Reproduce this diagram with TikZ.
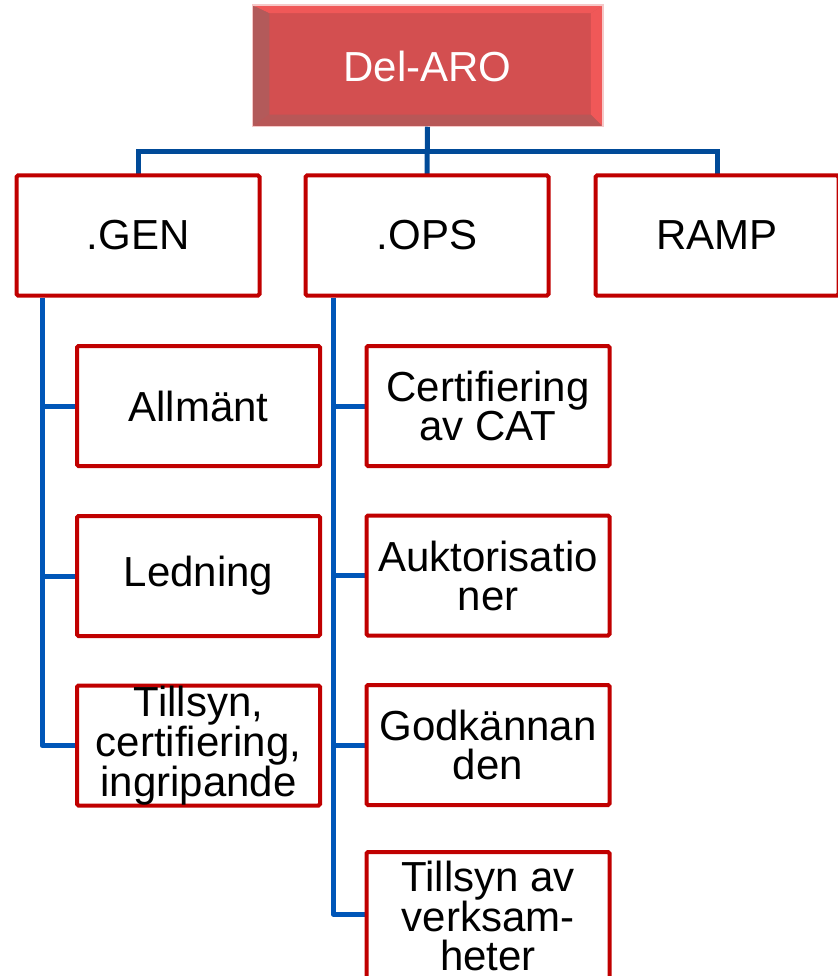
\documentclass[tikz,border=0pt]{standalone}
\usepackage{fontspec}
\setmainfont{Liberation Sans}
\usetikzlibrary{calc}
\definecolor{boxred}{HTML}{C00000}
\definecolor{topred}{HTML}{D34F50}
\definecolor{topedge}{HTML}{F6C8C8}
\definecolor{bevlight}{HTML}{F05858}
\definecolor{bevdark}{HTML}{B35A5A}
\definecolor{bevbot}{HTML}{B85757}
\definecolor{bluedark}{HTML}{004A98}
\definecolor{bluelight}{HTML}{0056B8}
\begin{document}
\begin{tikzpicture}[x=1pt,y=-1pt,
  box/.style={draw=boxred, line width=4pt, fill=white, rounded corners=1.5pt,
    minimum width=243pt, minimum height=120pt, inner sep=0pt, align=center,
    font=\fontsize{42}{39}\selectfont},
  topbox/.style={draw=topedge, line width=1.5pt, fill=topred,
    minimum width=349pt, minimum height=120pt, inner sep=0pt},
  toplabel/.style={text=white, inner sep=0pt, font=\fontsize{42}{39}\selectfont},
  topconn/.style={line width=5pt, bluedark},
  conn/.style={line width=5pt, bluelight, line join=round}]
\useasboundingbox (0,0) rectangle (837,976);

% coordinates
\coordinate (bus) at (0,152);
\coordinate (gsp) at (42,0);
\coordinate (osp) at (333,0);
\coordinate (o4branch) at (0,914);

% top box
\node[topbox] (top) at (427.5,66) {};
\fill[bevlight] (top.north west) -- (top.north east) -- ($(top.north east)+(-12,8)$) -- ($(top.north west)+(17,8)$) -- cycle;
\fill[bevdark] (top.north west) -- ($(top.north west)+(17,8)$) -- ($(top.south west)+(17,-12)$) -- (top.south west) -- cycle;
\fill[bevlight] (top.north east) -- (top.south east) -- ($(top.south east)+(-12,-12)$) -- ($(top.north east)+(-12,8)$) -- cycle;
\fill[bevbot] (top.south west) -- (top.south east) -- ($(top.south east)+(-12,-12)$) -- ($(top.south west)+(17,-12)$) -- cycle;
\draw[topedge, line width=1.5pt] (top.north west) rectangle (top.south east);
\node[toplabel] (toptext) at (top.center) {Del-ARO};

% level 2 boxes (positions)
\path (138,235.5) coordinate (genc) (427,235.5) coordinate (opsc) (717,235.5) coordinate (rampc);

% connectors top
\draw[topconn] (top.south) -- (opsc |- 0,176);
\draw[topconn] (genc |- 0,176) -- (genc |- bus) -- (rampc |- bus) -- (rampc |- 0,176);

\node[box] (gen) at (genc) {.GEN};
\node[box] (ops) at (opsc) {.OPS};
\node[box] (ramp) at (rampc) {RAMP};

% level 3 positions
\path (198.5,406) coordinate (g1c) (198.5,576) coordinate (g2c) (198.5,745.5) coordinate (g3c);
\path (488,406) coordinate (o1c) (488,575.5) coordinate (o2c) (488,745) coordinate (o3c) (488,916) coordinate (o4c);

% connectors level 3
\draw[conn] (gen.south -| gsp) |- (g3c);
\draw[conn] (g1c -| gsp) -- (g1c);
\draw[conn] (g2c -| gsp) -- (g2c);
\draw[conn] (ops.south -| osp) |- (o4branch -| o4c);
\draw[conn] (o1c -| osp) -- (o1c);
\draw[conn] (o2c -| osp) -- (o2c);
\draw[conn] (o3c -| osp) -- (o3c);

\node[box] (g1) at (g1c) {Allmänt};
\node[box] (g2) at (g2c) {Ledning};
\node[box] (g3) at (g3c) {Tillsyn,\\certifiering,\\ingripande};
\node[box] (o1) at (o1c) {Certifiering\\av CAT};
\node[box] (o2) at (o2c) {Auktorisatio\\ner};
\node[box] (o3) at (o3c) {Godkännan\\den};
\node[box, minimum height=128pt] (o4) at (o4c) {Tillsyn av\\verksam-\\heter};
\end{tikzpicture}
\end{document}
